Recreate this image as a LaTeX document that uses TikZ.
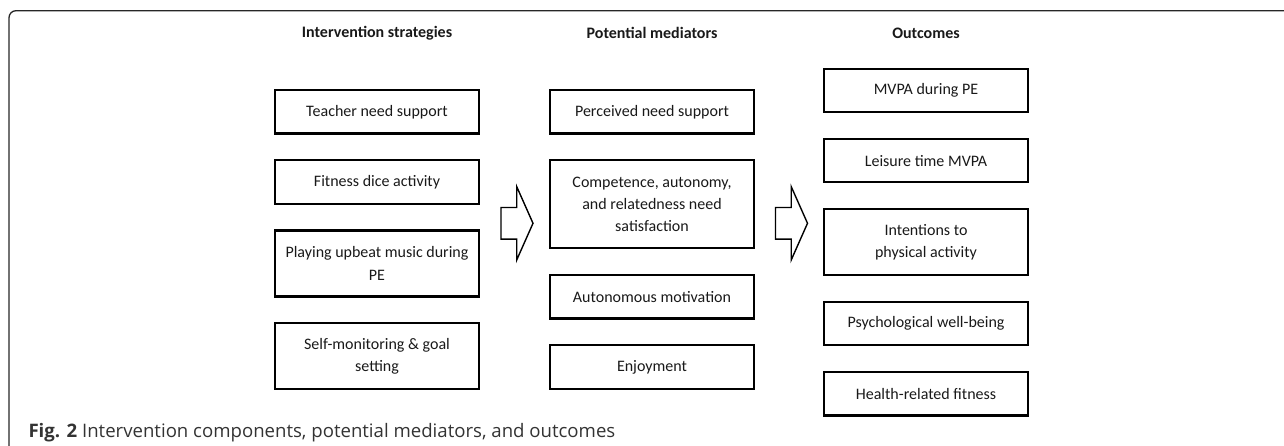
\documentclass[tikz,border=0pt]{standalone}
\usepackage{fontspec}
\setmainfont{Carlito}
\newfontfamily\capfont{Open Sans}
\usepackage{tikz}
\usetikzlibrary{arrows.meta}
\usetikzlibrary{calc,positioning}

\newcommand{\boxfont}{\fontsize{16}{22.4}\selectfont}

\tikzset{
  box/.style = {draw, line width=2.2pt, minimum width=203.8pt, minimum height=43.3pt,
    align=center, inner sep=2pt, font=\boxfont, text=black!90},
  tall/.style = {minimum height=65.8pt},
  taller/.style = {minimum height=87.8pt},
  head/.style = {font=\boxfont\bfseries, text=black!90},
  fatarrow/.pic = {
    \draw[line width=1.4pt, line join=miter] (-16,-15.8) -- (-0.3,-15.8) -- (-0.3,-36.7)
      -- (16,0) -- (-0.3,36.7) -- (-0.3,15.8) -- (-16,15.8) -- cycle;
  }
}

\begin{document}
\begin{tikzpicture}[>=Stealth, x=1pt, y=-1pt, node distance=24.7pt]

    \useasboundingbox (0,0) rectangle (1284,446);
    \draw[line width=1.3pt, rounded corners=7pt, black!85] (9,446) -- (9,10.7) -- (1284,10.7);

    % column heads
    \node[head] (hs) at (377,33) {Intervention strategies};
    \node[head] (hm) at (652,33) {Potential mediators};
    \node[head] (ho) at (926,33) {Outcomes};

    % intervention strategies
    \node[box, anchor=north] (s1) at (377,89.1) {Teacher need support};
    \node[box, below=of s1] (s2) {Fitness dice activity};
    \node[box, tall, below=of s2] (s3) {Playing upbeat music during\\PE};
    \node[box, tall, below=of s3] (s4) {Self-monitoring \& goal\\setting};

    % potential mediators
    \node[box, anchor=north] (m1) at (652,89.1) {Perceived need support};
    \node[box, taller, below=of m1] (m2) {Competence, autonomy,\\and relatedness need\\satisfaction};
    \node[box, below=of m2] (m3) {Autonomous motivation};
    \node[box, below=of m3] (m4) {Enjoyment};

    % outcomes
    \node[box, anchor=north] (o1) at (926,67.8) {MVPA during PE};
    \node[box, below=of o1] (o2) {Leisure time MVPA};
    \node[box, tall, below=of o2] (o3) {Intentions to\\physical activity};
    \node[box, below=of o3] (o4) {Psychological well-being};
    \node[box, below=of o4] (o5) {Health-related fitness};

    \pic at (517,223.3) {fatarrow};
    \pic at (791.5,223.3) {fatarrow};

    \node[anchor=base west, font=\capfont\fontsize{18.6}{20}\selectfont, text=black!80] (cap) at (25,437)
        {\textbf{Fig. 2} Intervention components, potential mediators, and outcomes};

\end{tikzpicture}
\end{document}
